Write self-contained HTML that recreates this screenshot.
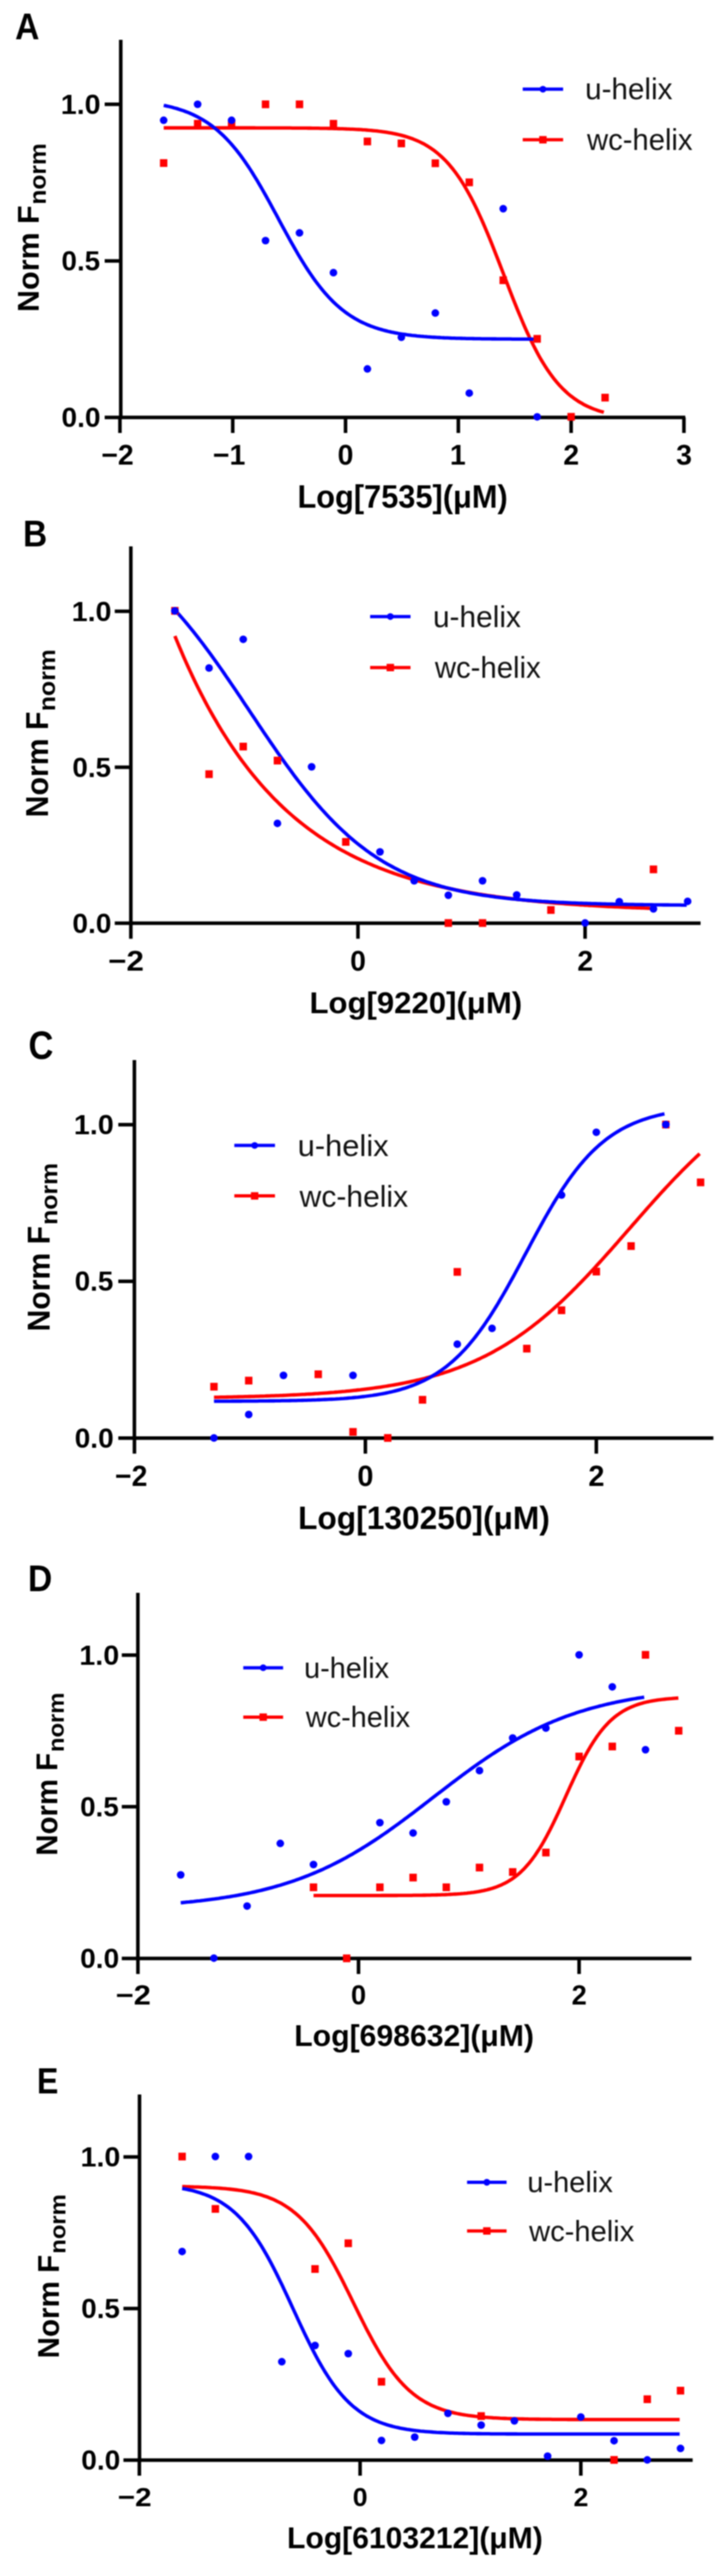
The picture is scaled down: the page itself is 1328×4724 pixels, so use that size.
<!DOCTYPE html>
<html><head><meta charset="utf-8"><style>
html,body{margin:0;padding:0;background:#fff;}
svg{display:block;filter:blur(1px);}
text{font-family:"Liberation Sans",sans-serif;}
</style></head><body>
<svg width="1328" height="4724" viewBox="0 0 1328 4724">
<rect width="1328" height="4724" fill="#fff"/>
<path d="M221.50,73.00V765.50M192.00,765.50H1257.00" stroke="#000" stroke-width="6.5" fill="none" stroke-linecap="butt"/>
<path d="M192.00,478.40H221.50M192.00,191.30H221.50M220.00,765.50V794.00M426.90,765.50V794.00M633.80,765.50V794.00M840.70,765.50V794.00M1047.60,765.50V794.00M1254.50,765.50V794.00" stroke="#000" stroke-width="6.5" fill="none"/>
<text transform="translate(112.84,783.00) scale(1.0305,1)" font-size="50.00" font-weight="bold" fill="#000">0.0</text>
<text transform="translate(112.86,495.90) scale(1.0189,1)" font-size="50.00" font-weight="bold" fill="#000">0.5</text>
<text transform="translate(111.49,208.80) scale(1.0506,1)" font-size="50.00" font-weight="bold" fill="#000">1.0</text>
<text transform="translate(185.92,851.70) scale(0.9987,1)" font-size="52.14" font-weight="bold" fill="#000">−2</text>
<text transform="translate(390.51,851.70) scale(1.0026,1)" font-size="52.14" font-weight="bold" fill="#000">−1</text>
<text transform="translate(619.33,851.70) scale(1.0000,1)" font-size="52.14" font-weight="bold" fill="#000">0</text>
<text transform="translate(825.19,851.70) scale(1.0000,1)" font-size="52.14" font-weight="bold" fill="#000">1</text>
<text transform="translate(1033.26,851.70) scale(1.0000,1)" font-size="52.14" font-weight="bold" fill="#000">2</text>
<text transform="translate(1240.29,851.70) scale(1.0000,1)" font-size="52.14" font-weight="bold" fill="#000">3</text>
<text transform="translate(27.66,72.20) scale(0.8973,1)" font-size="68.70" font-weight="bold" fill="#000">A</text>
<text transform="translate(545.63,930.80) scale(0.9638,1)" font-size="58.55" font-weight="bold" fill="#000">Log[7535](μM)</text>
<text transform="translate(70.80,572.13) rotate(-90) scale(1.0099,1)" font-size="55.36" font-weight="bold" fill="#000">Norm F</text>
<text transform="translate(84.00,375.33) rotate(-90) scale(1.0409,1)" font-size="43.33" font-weight="bold" fill="#000">norm</text>
<path d="M958.80,163.60H1032.90" stroke="#0000ff" stroke-width="6"/>
<circle cx="995.85" cy="163.60" r="6.2" fill="#0000ff"/>
<text transform="translate(1073.26,182.30) scale(0.9933,1)" font-size="54.76" font-weight="normal" fill="#111">u-helix</text>
<path d="M958.80,256.30H1032.90" stroke="#ff0000" stroke-width="6"/>
<rect x="989.05" y="249.50" width="13.6" height="13.6" fill="#ff0000"/>
<text transform="translate(1076.80,275.00) scale(0.9785,1)" font-size="54.76" font-weight="normal" fill="#111">wc-helix</text>
<polyline points="300.3,234.5 304.0,234.5 307.7,234.5 311.3,234.5 315.0,234.5 318.7,234.5 322.4,234.5 326.1,234.5 329.8,234.5 333.5,234.5 337.1,234.5 340.8,234.5 344.5,234.5 348.2,234.5 351.9,234.5 355.6,234.5 359.3,234.5 362.9,234.5 366.6,234.5 370.3,234.5 374.0,234.5 377.7,234.5 381.4,234.5 385.1,234.5 388.8,234.5 392.4,234.5 396.1,234.5 399.8,234.5 403.5,234.5 407.2,234.5 410.9,234.5 414.6,234.5 418.2,234.5 421.9,234.5 425.6,234.5 429.3,234.5 433.0,234.5 436.7,234.5 440.4,234.5 444.0,234.5 447.7,234.5 451.4,234.5 455.1,234.5 458.8,234.5 462.5,234.5 466.2,234.5 469.9,234.6 473.5,234.6 477.2,234.6 480.9,234.6 484.6,234.6 488.3,234.6 492.0,234.6 495.7,234.6 499.3,234.6 503.0,234.6 506.7,234.6 510.4,234.6 514.1,234.7 517.8,234.7 521.5,234.7 525.1,234.7 528.8,234.7 532.5,234.7 536.2,234.8 539.9,234.8 543.6,234.8 547.3,234.8 551.0,234.9 554.6,234.9 558.3,234.9 562.0,234.9 565.7,235.0 569.4,235.0 573.1,235.1 576.8,235.1 580.4,235.1 584.1,235.2 587.8,235.3 591.5,235.3 595.2,235.4 598.9,235.4 602.6,235.5 606.2,235.6 609.9,235.7 613.6,235.8 617.3,235.9 621.0,236.0 624.7,236.1 628.4,236.2 632.1,236.3 635.7,236.5 639.4,236.6 643.1,236.8 646.8,236.9 650.5,237.1 654.2,237.3 657.9,237.5 661.5,237.7 665.2,238.0 668.9,238.2 672.6,238.5 676.3,238.8 680.0,239.1 683.7,239.5 687.4,239.8 691.0,240.2 694.7,240.7 698.4,241.1 702.1,241.6 705.8,242.1 709.5,242.7 713.2,243.3 716.8,243.9 720.5,244.6 724.2,245.3 727.9,246.1 731.6,247.0 735.3,247.9 739.0,248.9 742.6,249.9 746.3,251.0 750.0,252.2 753.7,253.5 757.4,254.8 761.1,256.3 764.8,257.8 768.5,259.5 772.1,261.3 775.8,263.1 779.5,265.1 783.2,267.3 786.9,269.6 790.6,272.0 794.3,274.6 797.9,277.3 801.6,280.2 805.3,283.3 809.0,286.6 812.7,290.1 816.4,293.7 820.1,297.6 823.7,301.7 827.4,306.1 831.1,310.6 834.8,315.4 838.5,320.5 842.2,325.8 845.9,331.3 849.6,337.2 853.2,343.2 856.9,349.6 860.6,356.2 864.3,363.1 868.0,370.2 871.7,377.6 875.4,385.3 879.0,393.2 882.7,401.3 886.4,409.6 890.1,418.2 893.8,426.9 897.5,435.9 901.2,445.0 904.8,454.2 908.5,463.6 912.2,473.0 915.9,482.5 919.6,492.1 923.3,501.7 927.0,511.3 930.7,520.9 934.3,530.4 938.0,539.9 941.7,549.3 945.4,558.5 949.1,567.7 952.8,576.6 956.5,585.4 960.1,594.0 963.8,602.4 967.5,610.6 971.2,618.5 974.9,626.2 978.6,633.6 982.3,640.8 985.9,647.7 989.6,654.4 993.3,660.8 997.0,666.9 1000.7,672.8 1004.4,678.4 1008.1,683.7 1011.8,688.8 1015.4,693.7 1019.1,698.3 1022.8,702.7 1026.5,706.8 1030.2,710.7 1033.9,714.4 1037.6,717.9 1041.2,721.3 1044.9,724.4 1048.6,727.3 1052.3,730.1 1056.0,732.7 1059.7,735.2 1063.4,737.5 1067.1,739.6 1070.7,741.7 1074.4,743.6 1078.1,745.3 1081.8,747.0 1085.5,748.6 1089.2,750.1 1092.9,751.4 1096.5,752.7 1100.2,753.9 1103.9,755.0 1107.6,756.1" stroke="#ff0000" stroke-width="6.3" fill="none" stroke-linejoin="round"/>
<polyline points="300.3,193.2 303.4,193.9 306.5,194.6 309.6,195.3 312.8,196.0 315.9,196.8 319.0,197.7 322.1,198.5 325.2,199.4 328.4,200.4 331.5,201.4 334.6,202.4 337.7,203.5 340.8,204.7 344.0,205.9 347.1,207.2 350.2,208.5 353.3,209.9 356.4,211.4 359.5,212.9 362.7,214.5 365.8,216.2 368.9,217.9 372.0,219.7 375.1,221.6 378.3,223.6 381.4,225.7 384.5,227.8 387.6,230.1 390.7,232.4 393.9,234.9 397.0,237.4 400.1,240.0 403.2,242.8 406.3,245.6 409.5,248.6 412.6,251.7 415.7,254.8 418.8,258.1 421.9,261.5 425.1,265.1 428.2,268.7 431.3,272.4 434.4,276.3 437.5,280.3 440.7,284.4 443.8,288.6 446.9,293.0 450.0,297.4 453.1,302.0 456.3,306.6 459.4,311.4 462.5,316.3 465.6,321.3 468.7,326.4 471.9,331.5 475.0,336.8 478.1,342.1 481.2,347.5 484.3,353.0 487.5,358.6 490.6,364.2 493.7,369.8 496.8,375.5 499.9,381.2 503.0,387.0 506.2,392.8 509.3,398.6 512.4,404.4 515.5,410.2 518.6,415.9 521.8,421.7 524.9,427.4 528.0,433.1 531.1,438.8 534.2,444.4 537.4,449.9 540.5,455.4 543.6,460.8 546.7,466.2 549.8,471.4 553.0,476.6 556.1,481.7 559.2,486.6 562.3,491.5 565.4,496.3 568.6,501.0 571.7,505.5 574.8,510.0 577.9,514.3 581.0,518.5 584.2,522.6 587.3,526.6 590.4,530.5 593.5,534.3 596.6,537.9 599.8,541.4 602.9,544.8 606.0,548.1 609.1,551.3 612.2,554.4 615.4,557.3 618.5,560.2 621.6,562.9 624.7,565.5 627.8,568.1 631.0,570.5 634.1,572.9 637.2,575.1 640.3,577.3 643.4,579.4 646.5,581.3 649.7,583.2 652.8,585.1 655.9,586.8 659.0,588.5 662.1,590.1 665.3,591.6 668.4,593.0 671.5,594.4 674.6,595.8 677.7,597.0 680.9,598.3 684.0,599.4 687.1,600.5 690.2,601.6 693.3,602.6 696.5,603.5 699.6,604.4 702.7,605.3 705.8,606.1 708.9,606.9 712.1,607.7 715.2,608.4 718.3,609.1 721.4,609.7 724.5,610.3 727.7,610.9 730.8,611.5 733.9,612.0 737.0,612.5 740.1,613.0 743.3,613.4 746.4,613.9 749.5,614.3 752.6,614.7 755.7,615.1 758.9,615.4 762.0,615.7 765.1,616.1 768.2,616.4 771.3,616.7 774.5,616.9 777.6,617.2 780.7,617.4 783.8,617.7 786.9,617.9 790.0,618.1 793.2,618.3 796.3,618.5 799.4,618.7 802.5,618.9 805.6,619.0 808.8,619.2 811.9,619.3 815.0,619.5 818.1,619.6 821.2,619.7 824.4,619.8 827.5,620.0 830.6,620.1 833.7,620.2 836.8,620.3 840.0,620.4 843.1,620.4 846.2,620.5 849.3,620.6 852.4,620.7 855.6,620.8 858.7,620.8 861.8,620.9 864.9,620.9 868.0,621.0 871.2,621.1 874.3,621.1 877.4,621.2 880.5,621.2 883.6,621.3 886.8,621.3 889.9,621.3 893.0,621.4 896.1,621.4 899.2,621.4 902.4,621.5 905.5,621.5 908.6,621.5 911.7,621.6 914.8,621.6 918.0,621.6 921.1,621.6 924.2,621.7 927.3,621.7 930.4,621.7 933.5,621.7 936.7,621.7 939.8,621.8 942.9,621.8 946.0,621.8 949.1,621.8 952.3,621.8 955.4,621.8 958.5,621.8 961.6,621.9 964.7,621.9 967.9,621.9 971.0,621.9 974.1,621.9 977.2,621.9 980.3,621.9 983.5,621.9" stroke="#0000ff" stroke-width="6.3" fill="none" stroke-linejoin="round"/>
<rect x="293.40" y="291.90" width="13.6" height="14.2" fill="#ff0000"/>
<rect x="355.69" y="219.90" width="13.6" height="14.2" fill="#ff0000"/>
<rect x="417.97" y="219.90" width="13.6" height="14.2" fill="#ff0000"/>
<rect x="480.25" y="184.20" width="13.6" height="14.2" fill="#ff0000"/>
<rect x="542.54" y="184.20" width="13.6" height="14.2" fill="#ff0000"/>
<rect x="604.82" y="219.90" width="13.6" height="14.2" fill="#ff0000"/>
<rect x="667.10" y="252.30" width="13.6" height="14.2" fill="#ff0000"/>
<rect x="729.38" y="255.90" width="13.6" height="14.2" fill="#ff0000"/>
<rect x="791.67" y="292.30" width="13.6" height="14.2" fill="#ff0000"/>
<rect x="853.95" y="327.30" width="13.6" height="14.2" fill="#ff0000"/>
<rect x="916.23" y="506.80" width="13.6" height="14.2" fill="#ff0000"/>
<rect x="978.52" y="614.30" width="13.6" height="14.2" fill="#ff0000"/>
<rect x="1040.80" y="757.30" width="13.6" height="14.2" fill="#ff0000"/>
<rect x="1103.08" y="722.10" width="13.6" height="14.2" fill="#ff0000"/>
<circle cx="300.20" cy="220.60" r="7.00" fill="#0000ff"/>
<circle cx="362.49" cy="191.30" r="7.00" fill="#0000ff"/>
<circle cx="424.77" cy="220.60" r="7.00" fill="#0000ff"/>
<circle cx="487.05" cy="441.30" r="7.00" fill="#0000ff"/>
<circle cx="549.34" cy="427.10" r="7.00" fill="#0000ff"/>
<circle cx="611.62" cy="500.00" r="7.00" fill="#0000ff"/>
<circle cx="673.90" cy="676.60" r="7.00" fill="#0000ff"/>
<circle cx="736.18" cy="618.60" r="7.00" fill="#0000ff"/>
<circle cx="798.47" cy="574.10" r="7.00" fill="#0000ff"/>
<circle cx="860.75" cy="720.90" r="7.00" fill="#0000ff"/>
<circle cx="923.03" cy="382.80" r="7.00" fill="#0000ff"/>
<circle cx="985.32" cy="764.40" r="7.00" fill="#0000ff"/>
<path d="M240.00,1002.00V1693.00M210.50,1693.00H1285.00" stroke="#000" stroke-width="6.5" fill="none" stroke-linecap="butt"/>
<path d="M210.50,1407.00H240.00M210.50,1121.00H240.00M240.00,1693.00V1721.50M656.60,1693.00V1721.50M1073.20,1693.00V1721.50" stroke="#000" stroke-width="6.5" fill="none"/>
<text transform="translate(132.84,1710.50) scale(1.0305,1)" font-size="50.00" font-weight="bold" fill="#000">0.0</text>
<text transform="translate(132.86,1424.50) scale(1.0189,1)" font-size="50.00" font-weight="bold" fill="#000">0.5</text>
<text transform="translate(131.49,1138.50) scale(1.0506,1)" font-size="50.00" font-weight="bold" fill="#000">1.0</text>
<text transform="translate(198.50,1780.00) scale(1.1049,1)" font-size="52.00" font-weight="bold" fill="#000">−2</text>
<text transform="translate(642.17,1780.00) scale(1.0000,1)" font-size="52.00" font-weight="bold" fill="#000">0</text>
<text transform="translate(1058.90,1780.00) scale(1.0000,1)" font-size="52.00" font-weight="bold" fill="#000">2</text>
<text transform="translate(42.21,1001.80) scale(0.9059,1)" font-size="67.68" font-weight="bold" fill="#000">B</text>
<text transform="translate(567.69,1858.00) scale(1.0260,1)" font-size="55.65" font-weight="bold" fill="#000">Log[9220](μM)</text>
<text transform="translate(87.70,1498.91) rotate(-90) scale(0.9617,1)" font-size="57.68" font-weight="bold" fill="#000">Norm F</text>
<text transform="translate(100.80,1304.16) rotate(-90) scale(1.0587,1)" font-size="42.96" font-weight="bold" fill="#000">norm</text>
<path d="M678.90,1130.70H753.00" stroke="#0000ff" stroke-width="6"/>
<circle cx="715.95" cy="1130.70" r="6.2" fill="#0000ff"/>
<text transform="translate(794.14,1149.60) scale(0.9903,1)" font-size="55.31" font-weight="normal" fill="#111">u-helix</text>
<path d="M678.90,1224.20H753.00" stroke="#ff0000" stroke-width="6"/>
<rect x="709.15" y="1217.40" width="13.6" height="13.6" fill="#ff0000"/>
<text transform="translate(797.70,1243.10) scale(0.9718,1)" font-size="55.31" font-weight="normal" fill="#111">wc-helix</text>
<polyline points="320.8,1166.4 324.8,1176.1 328.8,1185.7 332.8,1195.1 336.7,1204.3 340.7,1213.3 344.7,1222.1 348.7,1230.8 352.7,1239.3 356.6,1247.6 360.6,1255.8 364.6,1263.9 368.6,1271.7 372.6,1279.4 376.5,1287.0 380.5,1294.4 384.5,1301.7 388.5,1308.9 392.5,1315.9 396.5,1322.7 400.4,1329.5 404.4,1336.1 408.4,1342.6 412.4,1348.9 416.4,1355.1 420.3,1361.3 424.3,1367.3 428.3,1373.1 432.3,1378.9 436.3,1384.6 440.2,1390.1 444.2,1395.5 448.2,1400.9 452.2,1406.1 456.2,1411.3 460.1,1416.3 464.1,1421.2 468.1,1426.1 472.1,1430.8 476.1,1435.5 480.0,1440.0 484.0,1444.5 488.0,1448.9 492.0,1453.2 496.0,1457.4 499.9,1461.6 503.9,1465.7 507.9,1469.6 511.9,1473.6 515.9,1477.4 519.8,1481.2 523.8,1484.8 527.8,1488.5 531.8,1492.0 535.8,1495.5 539.7,1498.9 543.7,1502.2 547.7,1505.5 551.7,1508.7 555.7,1511.9 559.7,1515.0 563.6,1518.0 567.6,1521.0 571.6,1523.9 575.6,1526.8 579.6,1529.6 583.5,1532.4 587.5,1535.1 591.5,1537.7 595.5,1540.3 599.5,1542.9 603.4,1545.4 607.4,1547.8 611.4,1550.2 615.4,1552.6 619.4,1554.9 623.3,1557.2 627.3,1559.4 631.3,1561.6 635.3,1563.7 639.3,1565.8 643.2,1567.9 647.2,1569.9 651.2,1571.9 655.2,1573.8 659.2,1575.7 663.1,1577.6 667.1,1579.4 671.1,1581.2 675.1,1583.0 679.1,1584.7 683.0,1586.4 687.0,1588.1 691.0,1589.7 695.0,1591.3 699.0,1592.9 703.0,1594.4 706.9,1595.9 710.9,1597.4 714.9,1598.9 718.9,1600.3 722.9,1601.7 726.8,1603.1 730.8,1604.4 734.8,1605.7 738.8,1607.0 742.8,1608.3 746.7,1609.5 750.7,1610.7 754.7,1611.9 758.7,1613.1 762.7,1614.3 766.6,1615.4 770.6,1616.5 774.6,1617.6 778.6,1618.6 782.6,1619.7 786.5,1620.7 790.5,1621.7 794.5,1622.7 798.5,1623.7 802.5,1624.6 806.4,1625.5 810.4,1626.4 814.4,1627.3 818.4,1628.2 822.4,1629.1 826.3,1629.9 830.3,1630.7 834.3,1631.5 838.3,1632.3 842.3,1633.1 846.3,1633.9 850.2,1634.6 854.2,1635.4 858.2,1636.1 862.2,1636.8 866.2,1637.5 870.1,1638.2 874.1,1638.8 878.1,1639.5 882.1,1640.1 886.1,1640.8 890.0,1641.4 894.0,1642.0 898.0,1642.6 902.0,1643.2 906.0,1643.7 909.9,1644.3 913.9,1644.8 917.9,1645.4 921.9,1645.9 925.9,1646.4 929.8,1646.9 933.8,1647.4 937.8,1647.9 941.8,1648.4 945.8,1648.9 949.7,1649.3 953.7,1649.8 957.7,1650.2 961.7,1650.7 965.7,1651.1 969.6,1651.5 973.6,1651.9 977.6,1652.3 981.6,1652.7 985.6,1653.1 989.5,1653.5 993.5,1653.9 997.5,1654.2 1001.5,1654.6 1005.5,1654.9 1009.5,1655.3 1013.4,1655.6 1017.4,1656.0 1021.4,1656.3 1025.4,1656.6 1029.4,1656.9 1033.3,1657.2 1037.3,1657.5 1041.3,1657.8 1045.3,1658.1 1049.3,1658.4 1053.2,1658.7 1057.2,1658.9 1061.2,1659.2 1065.2,1659.5 1069.2,1659.7 1073.1,1660.0 1077.1,1660.2 1081.1,1660.5 1085.1,1660.7 1089.1,1660.9 1093.0,1661.2 1097.0,1661.4 1101.0,1661.6 1105.0,1661.8 1109.0,1662.0 1112.9,1662.3 1116.9,1662.5 1120.9,1662.7 1124.9,1662.9 1128.9,1663.0 1132.8,1663.2 1136.8,1663.4 1140.8,1663.6 1144.8,1663.8 1148.8,1664.0 1152.8,1664.1 1156.7,1664.3 1160.7,1664.5 1164.7,1664.6 1168.7,1664.8 1172.7,1664.9 1176.6,1665.1 1180.6,1665.2 1184.6,1665.4 1188.6,1665.5 1192.6,1665.7" stroke="#ff0000" stroke-width="6.3" fill="none" stroke-linejoin="round"/>
<polyline points="320.8,1118.5 325.1,1123.3 329.4,1128.1 333.7,1133.0 338.0,1138.0 342.3,1143.1 346.5,1148.3 350.8,1153.5 355.1,1158.8 359.4,1164.3 363.7,1169.7 368.0,1175.3 372.3,1180.9 376.5,1186.6 380.8,1192.4 385.1,1198.2 389.4,1204.1 393.7,1210.1 398.0,1216.1 402.3,1222.2 406.6,1228.3 410.8,1234.4 415.1,1240.7 419.4,1246.9 423.7,1253.2 428.0,1259.5 432.3,1265.8 436.6,1272.2 440.9,1278.6 445.1,1285.0 449.4,1291.4 453.7,1297.8 458.0,1304.3 462.3,1310.7 466.6,1317.1 470.9,1323.5 475.1,1329.9 479.4,1336.3 483.7,1342.7 488.0,1349.0 492.3,1355.3 496.6,1361.6 500.9,1367.8 505.2,1374.0 509.4,1380.2 513.7,1386.3 518.0,1392.4 522.3,1398.4 526.6,1404.3 530.9,1410.2 535.2,1416.0 539.4,1421.8 543.7,1427.5 548.0,1433.1 552.3,1438.6 556.6,1444.1 560.9,1449.5 565.2,1454.8 569.5,1460.0 573.7,1465.2 578.0,1470.3 582.3,1475.3 586.6,1480.2 590.9,1485.0 595.2,1489.7 599.5,1494.3 603.7,1498.9 608.0,1503.3 612.3,1507.7 616.6,1512.0 620.9,1516.2 625.2,1520.3 629.5,1524.3 633.8,1528.2 638.0,1532.1 642.3,1535.8 646.6,1539.5 650.9,1543.1 655.2,1546.6 659.5,1550.0 663.8,1553.3 668.1,1556.6 672.3,1559.7 676.6,1562.8 680.9,1565.8 685.2,1568.7 689.5,1571.6 693.8,1574.3 698.1,1577.0 702.3,1579.7 706.6,1582.2 710.9,1584.7 715.2,1587.1 719.5,1589.4 723.8,1591.7 728.1,1593.9 732.4,1596.1 736.6,1598.2 740.9,1600.2 745.2,1602.2 749.5,1604.1 753.8,1605.9 758.1,1607.7 762.4,1609.4 766.6,1611.1 770.9,1612.8 775.2,1614.3 779.5,1615.9 783.8,1617.4 788.1,1618.8 792.4,1620.2 796.7,1621.6 800.9,1622.9 805.2,1624.1 809.5,1625.4 813.8,1626.6 818.1,1627.7 822.4,1628.8 826.7,1629.9 830.9,1630.9 835.2,1631.9 839.5,1632.9 843.8,1633.9 848.1,1634.8 852.4,1635.7 856.7,1636.5 861.0,1637.3 865.2,1638.1 869.5,1638.9 873.8,1639.7 878.1,1640.4 882.4,1641.1 886.7,1641.8 891.0,1642.4 895.3,1643.0 899.5,1643.6 903.8,1644.2 908.1,1644.8 912.4,1645.4 916.7,1645.9 921.0,1646.4 925.3,1646.9 929.5,1647.4 933.8,1647.8 938.1,1648.3 942.4,1648.7 946.7,1649.1 951.0,1649.5 955.3,1649.9 959.6,1650.3 963.8,1650.7 968.1,1651.0 972.4,1651.3 976.7,1651.7 981.0,1652.0 985.3,1652.3 989.6,1652.6 993.8,1652.9 998.1,1653.1 1002.4,1653.4 1006.7,1653.7 1011.0,1653.9 1015.3,1654.1 1019.6,1654.4 1023.9,1654.6 1028.1,1654.8 1032.4,1655.0 1036.7,1655.2 1041.0,1655.4 1045.3,1655.6 1049.6,1655.8 1053.9,1655.9 1058.1,1656.1 1062.4,1656.3 1066.7,1656.4 1071.0,1656.6 1075.3,1656.7 1079.6,1656.8 1083.9,1657.0 1088.2,1657.1 1092.4,1657.2 1096.7,1657.4 1101.0,1657.5 1105.3,1657.6 1109.6,1657.7 1113.9,1657.8 1118.2,1657.9 1122.5,1658.0 1126.7,1658.1 1131.0,1658.2 1135.3,1658.3 1139.6,1658.4 1143.9,1658.4 1148.2,1658.5 1152.5,1658.6 1156.7,1658.7 1161.0,1658.7 1165.3,1658.8 1169.6,1658.9 1173.9,1658.9 1178.2,1659.0 1182.5,1659.1 1186.8,1659.1 1191.0,1659.2 1195.3,1659.2 1199.6,1659.3 1203.9,1659.3 1208.2,1659.4 1212.5,1659.4 1216.8,1659.5 1221.0,1659.5 1225.3,1659.5 1229.6,1659.6 1233.9,1659.6 1238.2,1659.7 1242.5,1659.7 1246.8,1659.7 1251.1,1659.8 1255.3,1659.8 1259.6,1659.8" stroke="#0000ff" stroke-width="6.3" fill="none" stroke-linejoin="round"/>
<rect x="313.95" y="1113.10" width="13.6" height="14.2" fill="#ff0000"/>
<rect x="376.65" y="1412.60" width="13.6" height="14.2" fill="#ff0000"/>
<rect x="439.35" y="1362.00" width="13.6" height="14.2" fill="#ff0000"/>
<rect x="502.06" y="1387.70" width="13.6" height="14.2" fill="#ff0000"/>
<rect x="627.47" y="1536.80" width="13.6" height="14.2" fill="#ff0000"/>
<rect x="815.58" y="1685.60" width="13.6" height="14.2" fill="#ff0000"/>
<rect x="878.29" y="1685.60" width="13.6" height="14.2" fill="#ff0000"/>
<rect x="1003.70" y="1661.70" width="13.6" height="14.2" fill="#ff0000"/>
<rect x="1191.81" y="1587.20" width="13.6" height="14.2" fill="#ff0000"/>
<circle cx="320.75" cy="1120.20" r="7.00" fill="#0000ff"/>
<circle cx="383.45" cy="1225.00" r="7.00" fill="#0000ff"/>
<circle cx="446.15" cy="1172.40" r="7.00" fill="#0000ff"/>
<circle cx="508.86" cy="1509.90" r="7.00" fill="#0000ff"/>
<circle cx="571.56" cy="1406.30" r="7.00" fill="#0000ff"/>
<circle cx="696.97" cy="1562.20" r="7.00" fill="#0000ff"/>
<circle cx="759.68" cy="1615.20" r="7.00" fill="#0000ff"/>
<circle cx="822.38" cy="1641.70" r="7.00" fill="#0000ff"/>
<circle cx="885.09" cy="1615.20" r="7.00" fill="#0000ff"/>
<circle cx="947.79" cy="1641.20" r="7.00" fill="#0000ff"/>
<circle cx="1073.20" cy="1692.60" r="7.00" fill="#0000ff"/>
<circle cx="1135.90" cy="1653.40" r="7.00" fill="#0000ff"/>
<circle cx="1198.61" cy="1666.70" r="7.00" fill="#0000ff"/>
<circle cx="1261.31" cy="1652.90" r="7.00" fill="#0000ff"/>
<path d="M246.50,1944.00V2637.20M217.00,2637.20H1308.50" stroke="#000" stroke-width="6.5" fill="none" stroke-linecap="butt"/>
<path d="M217.00,2349.80H246.50M217.00,2062.40H246.50M246.60,2637.20V2665.70M670.20,2637.20V2665.70M1093.80,2637.20V2665.70" stroke="#000" stroke-width="6.5" fill="none"/>
<text transform="translate(136.94,2654.70) scale(1.0305,1)" font-size="50.00" font-weight="bold" fill="#000">0.0</text>
<text transform="translate(136.96,2367.30) scale(1.0189,1)" font-size="50.00" font-weight="bold" fill="#000">0.5</text>
<text transform="translate(135.59,2079.90) scale(1.0506,1)" font-size="50.00" font-weight="bold" fill="#000">1.0</text>
<text transform="translate(211.12,2724.80) scale(0.9790,1)" font-size="53.00" font-weight="bold" fill="#000">−2</text>
<text transform="translate(655.49,2724.80) scale(1.0000,1)" font-size="53.00" font-weight="bold" fill="#000">0</text>
<text transform="translate(1079.23,2724.80) scale(1.0000,1)" font-size="53.00" font-weight="bold" fill="#000">2</text>
<text transform="translate(52.37,1941.80) scale(0.8828,1)" font-size="71.59" font-weight="bold" fill="#000">C</text>
<text transform="translate(546.82,2803.80) scale(0.9927,1)" font-size="58.55" font-weight="bold" fill="#000">Log[130250](μM)</text>
<text transform="translate(90.80,2441.69) rotate(-90) scale(0.9758,1)" font-size="56.67" font-weight="bold" fill="#000">Norm F</text>
<text transform="translate(104.60,2246.26) rotate(-90) scale(1.0916,1)" font-size="41.67" font-weight="bold" fill="#000">norm</text>
<path d="M429.80,2100.60H504.40" stroke="#0000ff" stroke-width="6"/>
<circle cx="467.10" cy="2100.60" r="6.2" fill="#0000ff"/>
<text transform="translate(545.92,2120.00) scale(1.0148,1)" font-size="55.86" font-weight="normal" fill="#111">u-helix</text>
<path d="M429.80,2193.10H504.40" stroke="#ff0000" stroke-width="6"/>
<rect x="460.30" y="2186.30" width="13.6" height="13.6" fill="#ff0000"/>
<text transform="translate(549.60,2212.50) scale(0.9866,1)" font-size="55.86" font-weight="normal" fill="#111">wc-helix</text>
<polyline points="392.5,2562.4 396.6,2562.4 400.7,2562.3 404.7,2562.2 408.8,2562.1 412.9,2562.1 416.9,2562.0 421.0,2561.9 425.1,2561.8 429.1,2561.7 433.2,2561.6 437.3,2561.5 441.3,2561.4 445.4,2561.3 449.5,2561.2 453.5,2561.1 457.6,2561.0 461.7,2560.9 465.7,2560.8 469.8,2560.7 473.9,2560.6 478.0,2560.4 482.0,2560.3 486.1,2560.2 490.2,2560.0 494.2,2559.9 498.3,2559.7 502.4,2559.6 506.4,2559.4 510.5,2559.3 514.6,2559.1 518.6,2559.0 522.7,2558.8 526.8,2558.6 530.8,2558.4 534.9,2558.2 539.0,2558.0 543.0,2557.8 547.1,2557.6 551.2,2557.4 555.2,2557.2 559.3,2557.0 563.4,2556.7 567.4,2556.5 571.5,2556.3 575.6,2556.0 579.6,2555.7 583.7,2555.5 587.8,2555.2 591.8,2554.9 595.9,2554.6 600.0,2554.3 604.1,2554.0 608.1,2553.7 612.2,2553.4 616.3,2553.0 620.3,2552.7 624.4,2552.3 628.5,2551.9 632.5,2551.6 636.6,2551.2 640.7,2550.8 644.7,2550.4 648.8,2549.9 652.9,2549.5 656.9,2549.0 661.0,2548.6 665.1,2548.1 669.1,2547.6 673.2,2547.1 677.3,2546.6 681.3,2546.1 685.4,2545.5 689.5,2544.9 693.5,2544.4 697.6,2543.8 701.7,2543.2 705.7,2542.5 709.8,2541.9 713.9,2541.2 717.9,2540.5 722.0,2539.8 726.1,2539.1 730.2,2538.4 734.2,2537.6 738.3,2536.8 742.4,2536.0 746.4,2535.2 750.5,2534.3 754.6,2533.4 758.6,2532.5 762.7,2531.6 766.8,2530.7 770.8,2529.7 774.9,2528.7 779.0,2527.7 783.0,2526.6 787.1,2525.5 791.2,2524.4 795.2,2523.3 799.3,2522.1 803.4,2520.9 807.4,2519.6 811.5,2518.4 815.6,2517.1 819.6,2515.8 823.7,2514.4 827.8,2513.0 831.8,2511.5 835.9,2510.1 840.0,2508.6 844.0,2507.0 848.1,2505.4 852.2,2503.8 856.3,2502.1 860.3,2500.4 864.4,2498.7 868.5,2496.9 872.5,2495.1 876.6,2493.2 880.7,2491.3 884.7,2489.3 888.8,2487.3 892.9,2485.3 896.9,2483.2 901.0,2481.1 905.1,2478.9 909.1,2476.6 913.2,2474.3 917.3,2472.0 921.3,2469.6 925.4,2467.2 929.5,2464.7 933.5,2462.2 937.6,2459.6 941.7,2456.9 945.7,2454.3 949.8,2451.5 953.9,2448.7 957.9,2445.9 962.0,2443.0 966.1,2440.0 970.1,2437.0 974.2,2433.9 978.3,2430.8 982.3,2427.6 986.4,2424.4 990.5,2421.1 994.6,2417.8 998.6,2414.4 1002.7,2411.0 1006.8,2407.5 1010.8,2404.0 1014.9,2400.4 1019.0,2396.7 1023.0,2393.0 1027.1,2389.3 1031.2,2385.5 1035.2,2381.7 1039.3,2377.8 1043.4,2373.8 1047.4,2369.9 1051.5,2365.8 1055.6,2361.8 1059.6,2357.6 1063.7,2353.5 1067.8,2349.3 1071.8,2345.1 1075.9,2340.8 1080.0,2336.5 1084.0,2332.1 1088.1,2327.8 1092.2,2323.4 1096.2,2318.9 1100.3,2314.5 1104.4,2310.0 1108.4,2305.5 1112.5,2300.9 1116.6,2296.4 1120.7,2291.8 1124.7,2287.2 1128.8,2282.6 1132.9,2278.0 1136.9,2273.3 1141.0,2268.7 1145.1,2264.0 1149.1,2259.4 1153.2,2254.7 1157.3,2250.1 1161.3,2245.4 1165.4,2240.8 1169.5,2236.1 1173.5,2231.5 1177.6,2226.9 1181.7,2222.2 1185.7,2217.6 1189.8,2213.0 1193.9,2208.5 1197.9,2203.9 1202.0,2199.4 1206.1,2194.9 1210.1,2190.4 1214.2,2185.9 1218.3,2181.5 1222.3,2177.1 1226.4,2172.8 1230.5,2168.4 1234.5,2164.1 1238.6,2159.9 1242.7,2155.7 1246.8,2151.5 1250.8,2147.3 1254.9,2143.2 1259.0,2139.2 1263.0,2135.2 1267.1,2131.2 1271.2,2127.3 1275.2,2123.4 1279.3,2119.6 1283.4,2115.8" stroke="#ff0000" stroke-width="6.3" fill="none" stroke-linejoin="round"/>
<polyline points="392.5,2569.7 396.3,2569.6 400.1,2569.6 403.8,2569.6 407.6,2569.6 411.4,2569.6 415.2,2569.6 418.9,2569.6 422.7,2569.6 426.5,2569.5 430.3,2569.5 434.0,2569.5 437.8,2569.5 441.6,2569.5 445.3,2569.4 449.1,2569.4 452.9,2569.4 456.7,2569.4 460.4,2569.3 464.2,2569.3 468.0,2569.3 471.8,2569.3 475.5,2569.2 479.3,2569.2 483.1,2569.2 486.8,2569.1 490.6,2569.1 494.4,2569.0 498.2,2569.0 501.9,2569.0 505.7,2568.9 509.5,2568.9 513.3,2568.8 517.0,2568.7 520.8,2568.7 524.6,2568.6 528.3,2568.6 532.1,2568.5 535.9,2568.4 539.7,2568.3 543.4,2568.3 547.2,2568.2 551.0,2568.1 554.8,2568.0 558.5,2567.9 562.3,2567.8 566.1,2567.7 569.8,2567.6 573.6,2567.4 577.4,2567.3 581.2,2567.2 584.9,2567.0 588.7,2566.9 592.5,2566.7 596.3,2566.5 600.0,2566.4 603.8,2566.2 607.6,2566.0 611.3,2565.8 615.1,2565.6 618.9,2565.3 622.7,2565.1 626.4,2564.8 630.2,2564.6 634.0,2564.3 637.8,2564.0 641.5,2563.7 645.3,2563.4 649.1,2563.0 652.8,2562.6 656.6,2562.3 660.4,2561.9 664.2,2561.4 667.9,2561.0 671.7,2560.5 675.5,2560.0 679.3,2559.5 683.0,2559.0 686.8,2558.4 690.6,2557.8 694.4,2557.2 698.1,2556.5 701.9,2555.8 705.7,2555.1 709.4,2554.3 713.2,2553.5 717.0,2552.7 720.8,2551.8 724.5,2550.9 728.3,2549.9 732.1,2548.9 735.9,2547.8 739.6,2546.6 743.4,2545.5 747.2,2544.2 750.9,2542.9 754.7,2541.5 758.5,2540.1 762.3,2538.6 766.0,2537.0 769.8,2535.4 773.6,2533.7 777.4,2531.9 781.1,2530.0 784.9,2528.0 788.7,2525.9 792.4,2523.8 796.2,2521.5 800.0,2519.2 803.8,2516.7 807.5,2514.2 811.3,2511.5 815.1,2508.8 818.9,2505.9 822.6,2502.9 826.4,2499.7 830.2,2496.5 833.9,2493.1 837.7,2489.6 841.5,2486.0 845.3,2482.2 849.0,2478.3 852.8,2474.3 856.6,2470.1 860.4,2465.8 864.1,2461.3 867.9,2456.7 871.7,2452.0 875.4,2447.1 879.2,2442.1 883.0,2436.9 886.8,2431.6 890.5,2426.2 894.3,2420.6 898.1,2414.9 901.9,2409.0 905.6,2403.1 909.4,2397.0 913.2,2390.8 916.9,2384.4 920.7,2378.0 924.5,2371.5 928.3,2364.9 932.0,2358.2 935.8,2351.4 939.6,2344.6 943.4,2337.7 947.1,2330.7 950.9,2323.7 954.7,2316.7 958.4,2309.6 962.2,2302.6 966.0,2295.5 969.8,2288.4 973.5,2281.4 977.3,2274.3 981.1,2267.3 984.9,2260.3 988.6,2253.4 992.4,2246.6 996.2,2239.8 999.9,2233.1 1003.7,2226.5 1007.5,2219.9 1011.3,2213.5 1015.0,2207.2 1018.8,2200.9 1022.6,2194.8 1026.4,2188.9 1030.1,2183.0 1033.9,2177.3 1037.7,2171.7 1041.4,2166.2 1045.2,2160.9 1049.0,2155.7 1052.8,2150.6 1056.5,2145.7 1060.3,2141.0 1064.1,2136.3 1067.9,2131.9 1071.6,2127.5 1075.4,2123.3 1079.2,2119.2 1082.9,2115.3 1086.7,2111.5 1090.5,2107.9 1094.3,2104.4 1098.0,2101.0 1101.8,2097.7 1105.6,2094.6 1109.4,2091.5 1113.1,2088.6 1116.9,2085.8 1120.7,2083.2 1124.4,2080.6 1128.2,2078.1 1132.0,2075.8 1135.8,2073.5 1139.5,2071.3 1143.3,2069.3 1147.1,2067.3 1150.9,2065.4 1154.6,2063.6 1158.4,2061.8 1162.2,2060.2 1165.9,2058.6 1169.7,2057.1 1173.5,2055.6 1177.3,2054.2 1181.0,2052.9 1184.8,2051.7 1188.6,2050.5 1192.4,2049.3 1196.1,2048.3 1199.9,2047.2 1203.7,2046.2 1207.4,2045.3 1211.2,2044.4 1215.0,2043.5 1218.8,2042.7" stroke="#0000ff" stroke-width="6.3" fill="none" stroke-linejoin="round"/>
<rect x="385.66" y="2535.90" width="13.6" height="14.2" fill="#ff0000"/>
<rect x="449.42" y="2524.70" width="13.6" height="14.2" fill="#ff0000"/>
<rect x="576.93" y="2513.10" width="13.6" height="14.2" fill="#ff0000"/>
<rect x="640.69" y="2618.80" width="13.6" height="14.2" fill="#ff0000"/>
<rect x="704.45" y="2629.90" width="13.6" height="14.2" fill="#ff0000"/>
<rect x="768.21" y="2559.90" width="13.6" height="14.2" fill="#ff0000"/>
<rect x="831.97" y="2325.40" width="13.6" height="14.2" fill="#ff0000"/>
<rect x="959.48" y="2466.10" width="13.6" height="14.2" fill="#ff0000"/>
<rect x="1023.24" y="2395.70" width="13.6" height="14.2" fill="#ff0000"/>
<rect x="1087.00" y="2324.80" width="13.6" height="14.2" fill="#ff0000"/>
<rect x="1150.76" y="2278.00" width="13.6" height="14.2" fill="#ff0000"/>
<rect x="1214.52" y="2055.20" width="13.6" height="14.2" fill="#ff0000"/>
<rect x="1278.27" y="2161.20" width="13.6" height="14.2" fill="#ff0000"/>
<circle cx="392.46" cy="2637.00" r="7.00" fill="#0000ff"/>
<circle cx="456.22" cy="2594.00" r="7.00" fill="#0000ff"/>
<circle cx="519.98" cy="2522.30" r="7.00" fill="#0000ff"/>
<circle cx="647.49" cy="2522.30" r="7.00" fill="#0000ff"/>
<circle cx="838.77" cy="2465.00" r="7.00" fill="#0000ff"/>
<circle cx="902.53" cy="2436.00" r="7.00" fill="#0000ff"/>
<circle cx="1030.04" cy="2191.60" r="7.00" fill="#0000ff"/>
<circle cx="1093.80" cy="2076.40" r="7.00" fill="#0000ff"/>
<circle cx="1221.32" cy="2062.30" r="7.00" fill="#0000ff"/>
<path d="M252.90,2921.00V3591.50M223.40,3591.50H1268.20" stroke="#000" stroke-width="6.5" fill="none" stroke-linecap="butt"/>
<path d="M223.40,3313.35H252.90M223.40,3035.20H252.90M253.00,3591.50V3620.00M657.60,3591.50V3620.00M1062.20,3591.50V3620.00" stroke="#000" stroke-width="6.5" fill="none"/>
<text transform="translate(146.94,3609.00) scale(1.0305,1)" font-size="50.00" font-weight="bold" fill="#000">0.0</text>
<text transform="translate(146.96,3330.85) scale(1.0189,1)" font-size="50.00" font-weight="bold" fill="#000">0.5</text>
<text transform="translate(145.59,3052.70) scale(1.0506,1)" font-size="50.00" font-weight="bold" fill="#000">1.0</text>
<text transform="translate(212.34,3675.80) scale(1.1302,1)" font-size="50.00" font-weight="bold" fill="#000">−2</text>
<text transform="translate(643.73,3675.80) scale(1.0000,1)" font-size="50.00" font-weight="bold" fill="#000">0</text>
<text transform="translate(1048.45,3675.80) scale(1.0000,1)" font-size="50.00" font-weight="bold" fill="#000">2</text>
<text transform="translate(51.18,2918.40) scale(0.9129,1)" font-size="67.68" font-weight="bold" fill="#000">D</text>
<text transform="translate(539.80,3752.20) scale(1.0022,1)" font-size="55.22" font-weight="bold" fill="#000">Log[698632](μM)</text>
<text transform="translate(104.90,3402.90) rotate(-90) scale(0.9851,1)" font-size="54.64" font-weight="bold" fill="#000">Norm F</text>
<text transform="translate(117.30,3213.04) rotate(-90) scale(1.0878,1)" font-size="40.19" font-weight="bold" fill="#000">norm</text>
<path d="M446.20,3058.40H519.30" stroke="#0000ff" stroke-width="6"/>
<circle cx="482.75" cy="3058.40" r="6.2" fill="#0000ff"/>
<text transform="translate(557.65,3076.80) scale(0.9909,1)" font-size="53.52" font-weight="normal" fill="#111">u-helix</text>
<path d="M446.20,3149.00H519.30" stroke="#ff0000" stroke-width="6"/>
<rect x="475.95" y="3142.20" width="13.6" height="13.6" fill="#ff0000"/>
<text transform="translate(561.10,3167.40) scale(0.9883,1)" font-size="53.52" font-weight="normal" fill="#111">wc-helix</text>
<polyline points="575.1,3476.1 578.1,3476.1 581.2,3476.1 584.2,3476.1 587.3,3476.1 590.3,3476.1 593.4,3476.1 596.5,3476.1 599.5,3476.1 602.6,3476.1 605.6,3476.1 608.7,3476.1 611.7,3476.1 614.8,3476.1 617.8,3476.1 620.9,3476.1 624.0,3476.1 627.0,3476.1 630.1,3476.1 633.1,3476.1 636.2,3476.1 639.2,3476.1 642.3,3476.1 645.3,3476.1 648.4,3476.1 651.5,3476.1 654.5,3476.1 657.6,3476.1 660.6,3476.1 663.7,3476.1 666.7,3476.1 669.8,3476.1 672.8,3476.1 675.9,3476.1 679.0,3476.1 682.0,3476.1 685.1,3476.1 688.1,3476.1 691.2,3476.1 694.2,3476.1 697.3,3476.1 700.3,3476.0 703.4,3476.0 706.5,3476.0 709.5,3476.0 712.6,3476.0 715.6,3476.0 718.7,3476.0 721.7,3476.0 724.8,3476.0 727.8,3476.0 730.9,3475.9 734.0,3475.9 737.0,3475.9 740.1,3475.9 743.1,3475.9 746.2,3475.8 749.2,3475.8 752.3,3475.8 755.4,3475.8 758.4,3475.7 761.5,3475.7 764.5,3475.7 767.6,3475.6 770.6,3475.6 773.7,3475.6 776.7,3475.5 779.8,3475.5 782.9,3475.4 785.9,3475.3 789.0,3475.3 792.0,3475.2 795.1,3475.1 798.1,3475.1 801.2,3475.0 804.2,3474.9 807.3,3474.8 810.4,3474.7 813.4,3474.6 816.5,3474.5 819.5,3474.3 822.6,3474.2 825.6,3474.0 828.7,3473.9 831.7,3473.7 834.8,3473.5 837.9,3473.3 840.9,3473.1 844.0,3472.9 847.0,3472.6 850.1,3472.4 853.1,3472.1 856.2,3471.8 859.2,3471.4 862.3,3471.1 865.4,3470.7 868.4,3470.3 871.5,3469.8 874.5,3469.4 877.6,3468.9 880.6,3468.3 883.7,3467.7 886.7,3467.1 889.8,3466.4 892.9,3465.7 895.9,3464.9 899.0,3464.1 902.0,3463.2 905.1,3462.2 908.1,3461.2 911.2,3460.1 914.2,3458.9 917.3,3457.6 920.4,3456.3 923.4,3454.8 926.5,3453.3 929.5,3451.7 932.6,3449.9 935.6,3448.0 938.7,3446.1 941.8,3443.9 944.8,3441.7 947.9,3439.3 950.9,3436.8 954.0,3434.1 957.0,3431.3 960.1,3428.3 963.1,3425.1 966.2,3421.7 969.3,3418.2 972.3,3414.5 975.4,3410.6 978.4,3406.5 981.5,3402.3 984.5,3397.8 987.6,3393.1 990.6,3388.3 993.7,3383.3 996.8,3378.0 999.8,3372.6 1002.9,3367.0 1005.9,3361.3 1009.0,3355.4 1012.0,3349.3 1015.1,3343.1 1018.1,3336.8 1021.2,3330.3 1024.3,3323.8 1027.3,3317.2 1030.4,3310.5 1033.4,3303.8 1036.5,3297.0 1039.5,3290.3 1042.6,3283.5 1045.6,3276.8 1048.7,3270.1 1051.8,3263.5 1054.8,3257.0 1057.9,3250.6 1060.9,3244.3 1064.0,3238.1 1067.0,3232.0 1070.1,3226.1 1073.1,3220.4 1076.2,3214.8 1079.3,3209.4 1082.3,3204.2 1085.4,3199.1 1088.4,3194.3 1091.5,3189.7 1094.5,3185.2 1097.6,3181.0 1100.6,3176.9 1103.7,3173.0 1106.8,3169.3 1109.8,3165.8 1112.9,3162.5 1115.9,3159.3 1119.0,3156.3 1122.0,3153.5 1125.1,3150.8 1128.2,3148.3 1131.2,3145.9 1134.3,3143.7 1137.3,3141.6 1140.4,3139.6 1143.4,3137.7 1146.5,3136.0 1149.5,3134.4 1152.6,3132.8 1155.7,3131.4 1158.7,3130.1 1161.8,3128.8 1164.8,3127.6 1167.9,3126.5 1170.9,3125.5 1174.0,3124.5 1177.0,3123.7 1180.1,3122.8 1183.2,3122.0 1186.2,3121.3 1189.3,3120.6 1192.3,3120.0 1195.4,3119.4 1198.4,3118.9 1201.5,3118.4 1204.5,3117.9 1207.6,3117.4 1210.7,3117.0 1213.7,3116.7 1216.8,3116.3 1219.8,3116.0 1222.9,3115.7 1225.9,3115.4 1229.0,3115.1 1232.0,3114.9 1235.1,3114.6 1238.2,3114.4 1241.2,3114.2 1244.3,3114.0" stroke="#ff0000" stroke-width="6.3" fill="none" stroke-linejoin="round"/>
<polyline points="331.5,3489.3 335.4,3489.0 339.3,3488.6 343.1,3488.2 347.0,3487.9 350.9,3487.5 354.8,3487.1 358.7,3486.6 362.5,3486.2 366.4,3485.8 370.3,3485.3 374.2,3484.9 378.1,3484.4 382.0,3483.9 385.8,3483.4 389.7,3482.9 393.6,3482.4 397.5,3481.8 401.4,3481.3 405.2,3480.7 409.1,3480.1 413.0,3479.5 416.9,3478.9 420.8,3478.3 424.7,3477.6 428.5,3477.0 432.4,3476.3 436.3,3475.6 440.2,3474.8 444.1,3474.1 447.9,3473.3 451.8,3472.6 455.7,3471.8 459.6,3471.0 463.5,3470.1 467.3,3469.3 471.2,3468.4 475.1,3467.5 479.0,3466.6 482.9,3465.6 486.8,3464.6 490.6,3463.6 494.5,3462.6 498.4,3461.6 502.3,3460.5 506.2,3459.4 510.0,3458.3 513.9,3457.2 517.8,3456.0 521.7,3454.8 525.6,3453.6 529.5,3452.3 533.3,3451.1 537.2,3449.7 541.1,3448.4 545.0,3447.0 548.9,3445.6 552.7,3444.2 556.6,3442.8 560.5,3441.3 564.4,3439.8 568.3,3438.2 572.1,3436.6 576.0,3435.0 579.9,3433.4 583.8,3431.7 587.7,3430.0 591.6,3428.3 595.4,3426.5 599.3,3424.7 603.2,3422.8 607.1,3421.0 611.0,3419.0 614.8,3417.1 618.7,3415.1 622.6,3413.1 626.5,3411.1 630.4,3409.0 634.3,3406.9 638.1,3404.7 642.0,3402.6 645.9,3400.4 649.8,3398.1 653.7,3395.8 657.5,3393.5 661.4,3391.2 665.3,3388.8 669.2,3386.4 673.1,3384.0 677.0,3381.5 680.8,3379.0 684.7,3376.5 688.6,3374.0 692.5,3371.4 696.4,3368.8 700.2,3366.1 704.1,3363.5 708.0,3360.8 711.9,3358.1 715.8,3355.3 719.6,3352.6 723.5,3349.8 727.4,3347.0 731.3,3344.2 735.2,3341.3 739.1,3338.5 742.9,3335.6 746.8,3332.7 750.7,3329.8 754.6,3326.9 758.5,3323.9 762.3,3321.0 766.2,3318.0 770.1,3315.0 774.0,3312.1 777.9,3309.1 781.8,3306.1 785.6,3303.1 789.5,3300.1 793.4,3297.1 797.3,3294.1 801.2,3291.1 805.0,3288.1 808.9,3285.2 812.8,3282.2 816.7,3279.2 820.6,3276.2 824.5,3273.3 828.3,3270.3 832.2,3267.4 836.1,3264.4 840.0,3261.5 843.9,3258.6 847.7,3255.7 851.6,3252.9 855.5,3250.0 859.4,3247.2 863.3,3244.4 867.1,3241.6 871.0,3238.8 874.9,3236.1 878.8,3233.3 882.7,3230.6 886.6,3228.0 890.4,3225.3 894.3,3222.7 898.2,3220.1 902.1,3217.5 906.0,3215.0 909.8,3212.5 913.7,3210.0 917.6,3207.6 921.5,3205.1 925.4,3202.8 929.3,3200.4 933.1,3198.1 937.0,3195.8 940.9,3193.5 944.8,3191.3 948.7,3189.1 952.5,3186.9 956.4,3184.8 960.3,3182.7 964.2,3180.7 968.1,3178.6 972.0,3176.7 975.8,3174.7 979.7,3172.8 983.6,3170.9 987.5,3169.0 991.4,3167.2 995.2,3165.4 999.1,3163.7 1003.0,3161.9 1006.9,3160.2 1010.8,3158.6 1014.6,3156.9 1018.5,3155.4 1022.4,3153.8 1026.3,3152.3 1030.2,3150.8 1034.1,3149.3 1037.9,3147.8 1041.8,3146.4 1045.7,3145.1 1049.6,3143.7 1053.5,3142.4 1057.3,3141.1 1061.2,3139.8 1065.1,3138.6 1069.0,3137.4 1072.9,3136.2 1076.8,3135.0 1080.6,3133.9 1084.5,3132.8 1088.4,3131.7 1092.3,3130.7 1096.2,3129.7 1100.0,3128.6 1103.9,3127.7 1107.8,3126.7 1111.7,3125.8 1115.6,3124.9 1119.5,3124.0 1123.3,3123.1 1127.2,3122.3 1131.1,3121.4 1135.0,3120.6 1138.9,3119.8 1142.7,3119.1 1146.6,3118.3 1150.5,3117.6 1154.4,3116.9 1158.3,3116.2 1162.1,3115.5 1166.0,3114.9 1169.9,3114.2 1173.8,3113.6 1177.7,3113.0 1181.6,3112.4" stroke="#0000ff" stroke-width="6.3" fill="none" stroke-linejoin="round"/>
<rect x="568.21" y="3453.90" width="13.6" height="14.2" fill="#ff0000"/>
<rect x="629.11" y="3584.20" width="13.6" height="14.2" fill="#ff0000"/>
<rect x="690.01" y="3453.90" width="13.6" height="14.2" fill="#ff0000"/>
<rect x="750.91" y="3436.10" width="13.6" height="14.2" fill="#ff0000"/>
<rect x="811.81" y="3453.90" width="13.6" height="14.2" fill="#ff0000"/>
<rect x="872.70" y="3417.70" width="13.6" height="14.2" fill="#ff0000"/>
<rect x="933.60" y="3425.90" width="13.6" height="14.2" fill="#ff0000"/>
<rect x="994.50" y="3390.20" width="13.6" height="14.2" fill="#ff0000"/>
<rect x="1055.40" y="3214.10" width="13.6" height="14.2" fill="#ff0000"/>
<rect x="1116.30" y="3195.70" width="13.6" height="14.2" fill="#ff0000"/>
<rect x="1177.20" y="3027.60" width="13.6" height="14.2" fill="#ff0000"/>
<rect x="1238.10" y="3166.80" width="13.6" height="14.2" fill="#ff0000"/>
<circle cx="331.42" cy="3438.20" r="7.00" fill="#0000ff"/>
<circle cx="392.32" cy="3590.90" r="7.00" fill="#0000ff"/>
<circle cx="453.22" cy="3495.40" r="7.00" fill="#0000ff"/>
<circle cx="514.11" cy="3380.60" r="7.00" fill="#0000ff"/>
<circle cx="575.01" cy="3419.30" r="7.00" fill="#0000ff"/>
<circle cx="696.81" cy="3342.50" r="7.00" fill="#0000ff"/>
<circle cx="757.71" cy="3361.40" r="7.00" fill="#0000ff"/>
<circle cx="818.61" cy="3304.20" r="7.00" fill="#0000ff"/>
<circle cx="879.50" cy="3247.00" r="7.00" fill="#0000ff"/>
<circle cx="940.40" cy="3187.30" r="7.00" fill="#0000ff"/>
<circle cx="1001.30" cy="3169.00" r="7.00" fill="#0000ff"/>
<circle cx="1062.20" cy="3034.70" r="7.00" fill="#0000ff"/>
<circle cx="1123.10" cy="3093.40" r="7.00" fill="#0000ff"/>
<circle cx="1184.00" cy="3208.70" r="7.00" fill="#0000ff"/>
<path d="M255.90,3841.00V4511.60M226.40,4511.60H1270.50" stroke="#000" stroke-width="6.5" fill="none" stroke-linecap="butt"/>
<path d="M226.40,4233.50H255.90M226.40,3955.40H255.90M255.60,4511.60V4540.10M660.50,4511.60V4540.10M1065.40,4511.60V4540.10" stroke="#000" stroke-width="6.5" fill="none"/>
<text transform="translate(149.04,4529.10) scale(1.0305,1)" font-size="50.00" font-weight="bold" fill="#000">0.0</text>
<text transform="translate(149.06,4251.00) scale(1.0189,1)" font-size="50.00" font-weight="bold" fill="#000">0.5</text>
<text transform="translate(147.69,3972.90) scale(1.0506,1)" font-size="50.00" font-weight="bold" fill="#000">1.0</text>
<text transform="translate(215.92,4595.80) scale(1.1128,1)" font-size="49.00" font-weight="bold" fill="#000">−2</text>
<text transform="translate(646.90,4595.80) scale(1.0000,1)" font-size="49.00" font-weight="bold" fill="#000">0</text>
<text transform="translate(1051.93,4595.80) scale(1.0000,1)" font-size="49.00" font-weight="bold" fill="#000">2</text>
<text transform="translate(67.87,3839.00) scale(0.8746,1)" font-size="67.39" font-weight="bold" fill="#000">E</text>
<text transform="translate(526.51,4672.80) scale(0.9916,1)" font-size="55.65" font-weight="bold" fill="#000">Log[6103212](μM)</text>
<text transform="translate(107.70,4325.03) rotate(-90) scale(0.9751,1)" font-size="55.65" font-weight="bold" fill="#000">Norm F</text>
<text transform="translate(120.10,4133.04) rotate(-90) scale(1.0828,1)" font-size="40.37" font-weight="bold" fill="#000">norm</text>
<path d="M856.70,4002.00H929.20" stroke="#0000ff" stroke-width="6"/>
<circle cx="892.95" cy="4002.00" r="6.2" fill="#0000ff"/>
<text transform="translate(967.14,4020.40) scale(1.0058,1)" font-size="52.97" font-weight="normal" fill="#111">u-helix</text>
<path d="M856.70,4091.20H929.20" stroke="#ff0000" stroke-width="6"/>
<rect x="886.15" y="4084.40" width="13.6" height="13.6" fill="#ff0000"/>
<text transform="translate(970.60,4109.60) scale(1.0080,1)" font-size="52.97" font-weight="normal" fill="#111">wc-helix</text>
<polyline points="334.2,4009.9 338.3,4010.0 342.5,4010.1 346.6,4010.2 350.8,4010.3 355.0,4010.5 359.1,4010.6 363.3,4010.7 367.5,4010.9 371.6,4011.1 375.8,4011.2 380.0,4011.4 384.1,4011.6 388.3,4011.9 392.5,4012.1 396.6,4012.4 400.8,4012.7 405.0,4013.0 409.1,4013.3 413.3,4013.7 417.5,4014.1 421.6,4014.5 425.8,4015.0 430.0,4015.5 434.1,4016.0 438.3,4016.6 442.5,4017.2 446.6,4017.9 450.8,4018.6 455.0,4019.4 459.1,4020.2 463.3,4021.2 467.5,4022.1 471.6,4023.2 475.8,4024.3 480.0,4025.6 484.1,4026.9 488.3,4028.3 492.5,4029.8 496.6,4031.5 500.8,4033.2 505.0,4035.1 509.1,4037.2 513.3,4039.3 517.5,4041.6 521.6,4044.1 525.8,4046.8 530.0,4049.6 534.1,4052.6 538.3,4055.9 542.5,4059.3 546.6,4062.9 550.8,4066.8 555.0,4070.9 559.1,4075.2 563.3,4079.7 567.5,4084.6 571.6,4089.6 575.8,4095.0 580.0,4100.5 584.1,4106.4 588.3,4112.5 592.5,4118.8 596.6,4125.4 600.8,4132.3 605.0,4139.4 609.1,4146.7 613.3,4154.2 617.5,4161.9 621.6,4169.8 625.8,4177.8 630.0,4186.0 634.1,4194.3 638.3,4202.7 642.5,4211.1 646.6,4219.6 650.8,4228.1 655.0,4236.6 659.1,4245.0 663.3,4253.3 667.5,4261.6 671.6,4269.8 675.8,4277.8 680.0,4285.6 684.1,4293.3 688.3,4300.8 692.5,4308.0 696.6,4315.1 700.8,4321.9 705.0,4328.4 709.1,4334.7 713.3,4340.8 717.5,4346.6 721.6,4352.1 725.8,4357.4 730.0,4362.4 734.1,4367.2 738.3,4371.7 742.5,4376.0 746.6,4380.0 750.8,4383.8 755.0,4387.4 759.1,4390.8 763.3,4394.0 767.5,4397.0 771.6,4399.8 775.8,4402.4 780.0,4404.9 784.1,4407.1 788.3,4409.3 792.5,4411.3 796.6,4413.1 800.8,4414.9 805.0,4416.5 809.1,4418.0 813.3,4419.4 817.5,4420.7 821.6,4421.9 825.8,4423.0 830.0,4424.1 834.1,4425.1 838.3,4426.0 842.5,4426.8 846.6,4427.6 850.8,4428.3 855.0,4429.0 859.1,4429.6 863.3,4430.1 867.5,4430.7 871.6,4431.2 875.8,4431.6 879.9,4432.0 884.1,4432.4 888.3,4432.8 892.4,4433.1 896.6,4433.4 900.8,4433.7 904.9,4434.0 909.1,4434.2 913.3,4434.4 917.4,4434.7 921.6,4434.8 925.8,4435.0 929.9,4435.2 934.1,4435.3 938.3,4435.5 942.4,4435.6 946.6,4435.7 950.8,4435.8 954.9,4435.9 959.1,4436.0 963.3,4436.1 967.4,4436.2 971.6,4436.3 975.8,4436.4 979.9,4436.4 984.1,4436.5 988.3,4436.5 992.4,4436.6 996.6,4436.6 1000.8,4436.7 1004.9,4436.7 1009.1,4436.7 1013.3,4436.8 1017.4,4436.8 1021.6,4436.8 1025.8,4436.9 1029.9,4436.9 1034.1,4436.9 1038.3,4436.9 1042.4,4437.0 1046.6,4437.0 1050.8,4437.0 1054.9,4437.0 1059.1,4437.0 1063.3,4437.0 1067.4,4437.0 1071.6,4437.1 1075.8,4437.1 1079.9,4437.1 1084.1,4437.1 1088.3,4437.1 1092.4,4437.1 1096.6,4437.1 1100.8,4437.1 1104.9,4437.1 1109.1,4437.1 1113.3,4437.1 1117.4,4437.1 1121.6,4437.1 1125.8,4437.1 1129.9,4437.1 1134.1,4437.2 1138.3,4437.2 1142.4,4437.2 1146.6,4437.2 1150.8,4437.2 1154.9,4437.2 1159.1,4437.2 1163.3,4437.2 1167.4,4437.2 1171.6,4437.2 1175.8,4437.2 1179.9,4437.2 1184.1,4437.2 1188.3,4437.2 1192.4,4437.2 1196.6,4437.2 1200.8,4437.2 1204.9,4437.2 1209.1,4437.2 1213.3,4437.2 1217.4,4437.2 1221.6,4437.2 1225.8,4437.2 1229.9,4437.2 1234.1,4437.2 1238.3,4437.2 1242.4,4437.2 1246.6,4437.2" stroke="#ff0000" stroke-width="6.3" fill="none" stroke-linejoin="round"/>
<polyline points="334.2,4013.3 338.3,4014.1 342.5,4014.9 346.6,4015.8 350.8,4016.8 355.0,4017.8 359.1,4019.0 363.3,4020.2 367.5,4021.5 371.6,4022.9 375.8,4024.4 380.0,4026.0 384.1,4027.7 388.3,4029.6 392.5,4031.6 396.6,4033.7 400.8,4036.0 405.0,4038.4 409.1,4041.1 413.3,4043.9 417.5,4046.8 421.6,4050.0 425.8,4053.4 430.0,4057.0 434.1,4060.8 438.3,4064.9 442.5,4069.2 446.6,4073.8 450.8,4078.6 455.0,4083.6 459.1,4089.0 463.3,4094.6 467.5,4100.5 471.6,4106.6 475.8,4113.0 480.0,4119.7 484.1,4126.7 488.3,4133.9 492.5,4141.4 496.6,4149.1 500.8,4157.0 505.0,4165.2 509.1,4173.5 513.3,4182.1 517.5,4190.7 521.6,4199.5 525.8,4208.4 530.0,4217.4 534.1,4226.4 538.3,4235.5 542.5,4244.5 546.6,4253.5 550.8,4262.5 555.0,4271.4 559.1,4280.1 563.3,4288.7 567.5,4297.2 571.6,4305.4 575.8,4313.5 580.0,4321.4 584.1,4329.0 588.3,4336.4 592.5,4343.5 596.6,4350.3 600.8,4356.9 605.0,4363.2 609.1,4369.3 613.3,4375.1 617.5,4380.6 621.6,4385.8 625.8,4390.7 630.0,4395.5 634.1,4399.9 638.3,4404.1 642.5,4408.1 646.6,4411.8 650.8,4415.3 655.0,4418.6 659.1,4421.7 663.3,4424.6 667.5,4427.4 671.6,4429.9 675.8,4432.3 680.0,4434.5 684.1,4436.6 688.3,4438.6 692.5,4440.4 696.6,4442.1 700.8,4443.6 705.0,4445.1 709.1,4446.4 713.3,4447.7 717.5,4448.9 721.6,4450.0 725.8,4451.0 730.0,4451.9 734.1,4452.8 738.3,4453.6 742.5,4454.4 746.6,4455.1 750.8,4455.7 755.0,4456.3 759.1,4456.9 763.3,4457.4 767.5,4457.8 771.6,4458.3 775.8,4458.7 780.0,4459.1 784.1,4459.4 788.3,4459.7 792.5,4460.0 796.6,4460.3 800.8,4460.6 805.0,4460.8 809.1,4461.0 813.3,4461.2 817.5,4461.4 821.6,4461.6 825.8,4461.8 830.0,4461.9 834.1,4462.1 838.3,4462.2 842.5,4462.3 846.6,4462.4 850.8,4462.5 855.0,4462.6 859.1,4462.7 863.3,4462.8 867.5,4462.8 871.6,4462.9 875.8,4463.0 879.9,4463.0 884.1,4463.1 888.3,4463.1 892.4,4463.2 896.6,4463.2 900.8,4463.3 904.9,4463.3 909.1,4463.3 913.3,4463.4 917.4,4463.4 921.6,4463.4 925.8,4463.4 929.9,4463.5 934.1,4463.5 938.3,4463.5 942.4,4463.5 946.6,4463.5 950.8,4463.6 954.9,4463.6 959.1,4463.6 963.3,4463.6 967.4,4463.6 971.6,4463.6 975.8,4463.6 979.9,4463.6 984.1,4463.6 988.3,4463.6 992.4,4463.7 996.6,4463.7 1000.8,4463.7 1004.9,4463.7 1009.1,4463.7 1013.3,4463.7 1017.4,4463.7 1021.6,4463.7 1025.8,4463.7 1029.9,4463.7 1034.1,4463.7 1038.3,4463.7 1042.4,4463.7 1046.6,4463.7 1050.8,4463.7 1054.9,4463.7 1059.1,4463.7 1063.3,4463.7 1067.4,4463.7 1071.6,4463.7 1075.8,4463.7 1079.9,4463.7 1084.1,4463.7 1088.3,4463.7 1092.4,4463.7 1096.6,4463.7 1100.8,4463.7 1104.9,4463.7 1109.1,4463.7 1113.3,4463.7 1117.4,4463.7 1121.6,4463.7 1125.8,4463.7 1129.9,4463.7 1134.1,4463.7 1138.3,4463.7 1142.4,4463.7 1146.6,4463.7 1150.8,4463.7 1154.9,4463.7 1159.1,4463.7 1163.3,4463.7 1167.4,4463.7 1171.6,4463.7 1175.8,4463.7 1179.9,4463.7 1184.1,4463.7 1188.3,4463.7 1192.4,4463.7 1196.6,4463.7 1200.8,4463.7 1204.9,4463.7 1209.1,4463.7 1213.3,4463.7 1217.4,4463.7 1221.6,4463.7 1225.8,4463.7 1229.9,4463.7 1234.1,4463.7 1238.3,4463.7 1242.4,4463.7 1246.6,4463.7" stroke="#0000ff" stroke-width="6.3" fill="none" stroke-linejoin="round"/>
<rect x="327.28" y="3947.70" width="13.6" height="14.2" fill="#ff0000"/>
<rect x="388.22" y="4043.70" width="13.6" height="14.2" fill="#ff0000"/>
<rect x="571.05" y="4153.90" width="13.6" height="14.2" fill="#ff0000"/>
<rect x="632.00" y="4106.70" width="13.6" height="14.2" fill="#ff0000"/>
<rect x="692.94" y="4360.60" width="13.6" height="14.2" fill="#ff0000"/>
<rect x="875.77" y="4423.60" width="13.6" height="14.2" fill="#ff0000"/>
<rect x="1119.54" y="4504.00" width="13.6" height="14.2" fill="#ff0000"/>
<rect x="1180.49" y="4392.70" width="13.6" height="14.2" fill="#ff0000"/>
<rect x="1241.43" y="4377.00" width="13.6" height="14.2" fill="#ff0000"/>
<circle cx="334.08" cy="4128.90" r="7.00" fill="#0000ff"/>
<circle cx="395.02" cy="3954.80" r="7.00" fill="#0000ff"/>
<circle cx="455.96" cy="3954.80" r="7.00" fill="#0000ff"/>
<circle cx="516.91" cy="4331.10" r="7.00" fill="#0000ff"/>
<circle cx="577.85" cy="4301.30" r="7.00" fill="#0000ff"/>
<circle cx="638.80" cy="4316.20" r="7.00" fill="#0000ff"/>
<circle cx="699.74" cy="4475.40" r="7.00" fill="#0000ff"/>
<circle cx="760.68" cy="4469.30" r="7.00" fill="#0000ff"/>
<circle cx="821.63" cy="4425.70" r="7.00" fill="#0000ff"/>
<circle cx="882.57" cy="4447.20" r="7.00" fill="#0000ff"/>
<circle cx="943.51" cy="4439.50" r="7.00" fill="#0000ff"/>
<circle cx="1004.46" cy="4504.30" r="7.00" fill="#0000ff"/>
<circle cx="1065.40" cy="4432.40" r="7.00" fill="#0000ff"/>
<circle cx="1126.34" cy="4475.90" r="7.00" fill="#0000ff"/>
<circle cx="1187.29" cy="4511.10" r="7.00" fill="#0000ff"/>
<circle cx="1248.23" cy="4490.10" r="7.00" fill="#0000ff"/>
</svg>
</body></html>
